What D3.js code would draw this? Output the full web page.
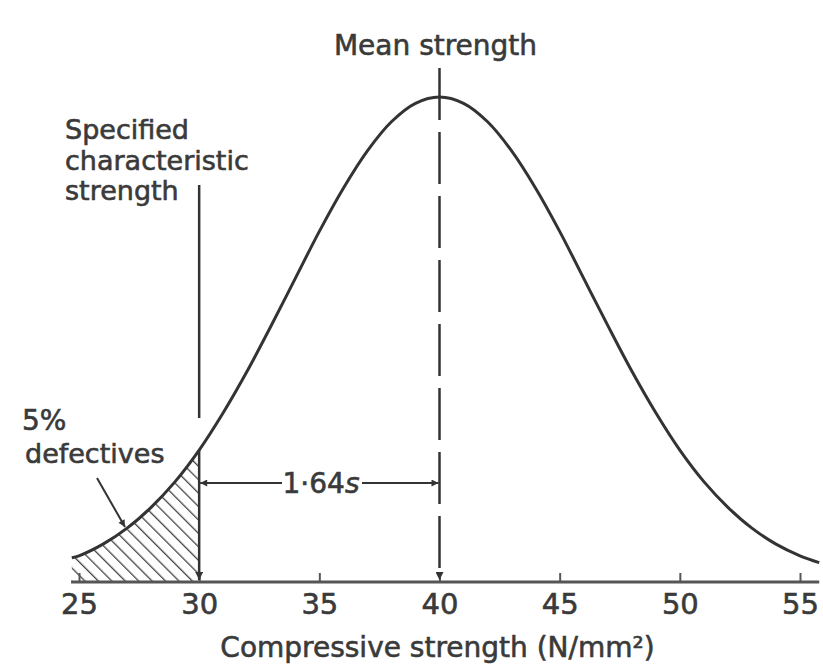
<!DOCTYPE html>
<html><head><meta charset="utf-8">
<script src="https://cdn.jsdelivr.net/npm/d3@7"></script>
<style>
body{margin:0;background:#fff}
svg{display:block}
text{font-family:"DejaVu Sans",sans-serif;fill:#3a3a3a;stroke:#3a3a3a;stroke-width:0.6px}
</style>
</head><body>
<svg id="chart" width="823" height="669"></svg>
<script>
// Data
const strength = [24.7,25,26,27,28,29,30,31,32,33,34,35,36,37,38,39,40,41,42,43,44,45,46,47,48,49,50,51,52,53,54,55,55.8];
const frequency = [5.0,5.4,7.8,11.1,15.4,20.7,27.2,34.9,43.5,52.9,62.6,72.3,81.2,88.9,94.9,98.7,100,98.7,94.9,88.9,81.2,72.3,62.6,52.9,43.5,34.9,27.2,20.7,15.4,11.1,7.8,5.4,4.0];
const tickValues = [25,30,35,40,45,50,55];
const tickLabels = ["25","30","35","40","45","50","55"];
const meanStrength = 40;
const characteristicStrength = 30;
const axisTitle = "Compressive strength (N/mm²)";

const svg = d3.select("#chart");
const ink = "#333";
const x = d3.scaleLinear().domain([25,55]).range([79,800]);
const y = d3.scaleLinear().domain([0,100]).range([582,97]);
const pts = strength.map((s,i)=>({s, f:frequency[i]}));

// defs: markers and hatch
const defs = svg.append("defs");
defs.append("marker").attr("id","arr").attr("viewBox","0 0 10 10")
  .attr("refX",10).attr("refY",5).attr("markerUnits","userSpaceOnUse")
  .attr("markerWidth",15).attr("markerHeight",8).attr("orient","auto")
  .append("path").attr("d","M0,0L10,5L0,10z").attr("fill",ink);
defs.append("marker").attr("id","arrS").attr("viewBox","0 0 10 10")
  .attr("refX",10).attr("refY",5).attr("markerUnits","userSpaceOnUse")
  .attr("markerWidth",12).attr("markerHeight",7).attr("orient","auto")
  .append("path").attr("d","M0,0L10,5L0,10z").attr("fill",ink);
const pat = defs.append("pattern").attr("id","hatch").attr("patternUnits","userSpaceOnUse")
  .attr("width",9.5).attr("height",9.5).attr("patternTransform","rotate(-45)");
pat.append("line").attr("x1",0).attr("y1",0).attr("x2",0).attr("y2",9.5)
  .attr("stroke","#444").attr("stroke-width",2.6);

// hatched 5% area
const tail = pts.filter(p=>p.s<=characteristicStrength);
svg.append("path").datum(tail)
  .attr("d", d3.area().x(d=>x(d.s)).y0(y(0)).y1(d=>y(d.f)).curve(d3.curveCatmullRom))
  .attr("fill","url(#hatch)");

// axis
const axis = d3.axisBottom(x).tickValues(tickValues).tickFormat((d,i)=>tickLabels[i])
  .tickSizeInner(-9).tickSizeOuter(0).tickPadding(11);
const ag = svg.append("g").attr("transform",`translate(0,${y(0)})`).call(axis);
ag.select(".domain").remove();
ag.selectAll(".tick line").attr("stroke","#555").attr("stroke-width",2);
ag.selectAll(".tick text").attr("font-size",29).attr("font-family","DejaVu Sans, sans-serif")
  .attr("fill","#3a3a3a").attr("stroke","#3a3a3a").attr("stroke-width",0.6);
svg.append("line").attr("x1",x(24.67)).attr("x2",x(55.8)).attr("y1",y(0)).attr("y2",y(0))
  .attr("stroke","#555").attr("stroke-width",3);

// curve
svg.append("path").datum(pts)
  .attr("d", d3.line().x(d=>x(d.s)).y(d=>y(d.f)).curve(d3.curveCatmullRom))
  .attr("fill","none").attr("stroke",ink).attr("stroke-width",3);

// characteristic strength line
const fAt30 = frequency[strength.indexOf(characteristicStrength)];
svg.append("line").attr("x1",x(characteristicStrength)).attr("x2",x(characteristicStrength))
  .attr("y1",185).attr("y2",418).attr("stroke",ink).attr("stroke-width",2.5);
svg.append("line").attr("x1",x(characteristicStrength)).attr("x2",x(characteristicStrength))
  .attr("y1",y(fAt30)).attr("y2",y(0)-2).attr("stroke",ink).attr("stroke-width",2.5)
  .attr("marker-end","url(#arr)");

// mean strength dashed line
svg.append("line").attr("x1",x(meanStrength)).attr("x2",x(meanStrength))
  .attr("y1",68).attr("y2",y(0)-2).attr("stroke",ink).attr("stroke-width",2.5)
  .attr("stroke-dasharray","52,12").attr("marker-end","url(#arr)");

// 1.64s dimension
const dimY = 483;
svg.append("line").attr("x1",282).attr("x2",x(characteristicStrength)+1).attr("y1",dimY).attr("y2",dimY)
  .attr("stroke",ink).attr("stroke-width",2).attr("marker-end","url(#arrS)");
svg.append("line").attr("x1",362).attr("x2",x(meanStrength)-1).attr("y1",dimY).attr("y2",dimY)
  .attr("stroke",ink).attr("stroke-width",2).attr("marker-end","url(#arrS)");
const dt = svg.append("text").attr("x",321).attr("y",dimY+10).attr("text-anchor","middle").attr("font-size",28);
dt.append("tspan").text("1·64");
dt.append("tspan").attr("font-style","italic").text("s");

// leader line for 5% defectives
svg.append("line").attr("x1",97).attr("y1",478).attr("x2",125).attr("y2",527)
  .attr("stroke",ink).attr("stroke-width",2).attr("marker-end","url(#arrS)");

// labels
svg.append("text").attr("x",x(meanStrength)-4).attr("y",55).attr("text-anchor","middle")
  .attr("font-size",28).text("Mean strength");
const sc = svg.append("text").attr("font-size",27);
[["Specified",139],["characteristic",170],["strength",200]].forEach(([t,yy])=>
  sc.append("tspan").attr("x",65).attr("y",yy).text(t));
svg.append("text").attr("x",22).attr("y",430).attr("font-size",28).text("5%");
svg.append("text").attr("x",25).attr("y",463).attr("font-size",27).text("defectives");
svg.append("text").attr("x",x(meanStrength)-2).attr("y",657).attr("text-anchor","middle")
  .attr("font-size",28).text(axisTitle);
</script>
</body></html>
